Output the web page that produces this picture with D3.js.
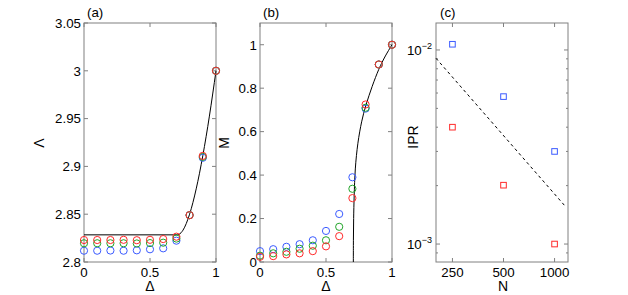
<!DOCTYPE html>
<html>
<head>
<meta charset="utf-8">
<script src="https://cdn.jsdelivr.net/npm/d3@7"></script>
<style>
  body { margin: 0; background: #fff; }
  svg { display: block; }
  text { font-family: "Liberation Sans", Arial, sans-serif; fill: #000; }
</style>
</head>
<body>
<div id="chart"></div>
<script>

// Delta values of the circles
var deltas = [0, 0.1, 0.2, 0.3, 0.4, 0.5, 0.6, 0.7, 0.8, 0.9, 1.0];

// Panel (a): Lambda
var lamBlue  = [2.8118, 2.8118, 2.8120, 2.8118, 2.8122, 2.8133, 2.8143, 2.8223, 2.849, 2.909, 3.0];
var lamGreen = [2.8196, 2.8196, 2.8196, 2.8196, 2.8194, 2.8198, 2.8202, 2.8245, 2.849, 2.910, 3.0];
var lamRed   = [2.8230, 2.8230, 2.8230, 2.8232, 2.8228, 2.8232, 2.8240, 2.8265, 2.849, 2.911, 3.0];
var lamLineD = [0, 0.7071, 0.72, 0.75, 0.8, 0.85, 0.9, 0.95, 1.0];
var lamLineV = [2.8284, 2.8284, 2.8289, 2.8333, 2.850, 2.8765, 2.9111, 2.9526, 3.0];

// Panel (b): M
var mBlue  = [0.050, 0.059, 0.070, 0.082, 0.100, 0.143, 0.221, 0.390, 0.706, 0.909, 1.0];
var mGreen = [0.029, 0.040, 0.047, 0.061, 0.075, 0.100, 0.162, 0.337, 0.710, 0.909, 1.0];
var mRed   = [0.024, 0.027, 0.035, 0.040, 0.050, 0.072, 0.119, 0.294, 0.725, 0.909, 1.0];
var mLineD = [0.7071, 0.7075, 0.709, 0.713, 0.72, 0.74, 0.77, 0.8, 0.85, 0.9, 0.95, 1.0];
var mLineV = [0, 0.10, 0.20, 0.30, 0.43, 0.55, 0.65, 0.72, 0.81, 0.89, 0.95, 1.0];

// Panel (c): IPR vs N
var sizes   = [250, 500, 1000];
var iprBlue = [0.0107, 0.00575, 0.0030];
var iprRed  = [0.0040, 0.00201, 0.0010];
var dashN   = [200, 1160];
var dashIPR = [0.00906, 0.00156];

var blue = '#3b5bff', green = '#22a52a', red = '#ff2a2a', frame = '#808080';
var fs = 13.3;

var svg = d3.select('#chart').append('svg')
	.attr('width', 628).attr('height', 295);

var plotTop = 23, plotBottom = 262;

// Draws one boxed panel with inward ticks on all four sides
function panel(x, y, xTicks, yTicks, xFmt, yFmt, minorY) {

	var g = svg.append('g');
	var x0 = x.range()[0], x1 = x.range()[1];

	g.append('rect')
		.attr('x', x0).attr('y', plotTop)
		.attr('width', x1 - x0).attr('height', plotBottom - plotTop)
		.attr('fill', 'none').attr('stroke', frame).attr('stroke-width', 1);

	var tl = 4;

	xTicks.forEach(function(t) {
		var px = x(t);
		g.append('line').attr('x1', px).attr('x2', px).attr('y1', plotBottom).attr('y2', plotBottom - tl)
			.attr('stroke', frame);
		g.append('line').attr('x1', px).attr('x2', px).attr('y1', plotTop).attr('y2', plotTop + tl)
			.attr('stroke', frame);
		g.append('text').attr('x', px).attr('y', 276.5)
			.attr('text-anchor', 'middle').attr('font-size', fs)
			.text(xFmt(t));
	});

	yTicks.forEach(function(t) {
		var py = y(t);
		g.append('line').attr('x1', x0).attr('x2', x0 + tl).attr('y1', py).attr('y2', py)
			.attr('stroke', frame);
		g.append('line').attr('x1', x1).attr('x2', x1 - tl).attr('y1', py).attr('y2', py)
			.attr('stroke', frame);
		yFmt(g, t, x0 - 3, py);
	});

	(minorY || []).forEach(function(t) {
		var py = y(t);
		g.append('line').attr('x1', x0).attr('x2', x0 + 2).attr('y1', py).attr('y2', py)
			.attr('stroke', frame);
		g.append('line').attr('x1', x1).attr('x2', x1 - 2).attr('y1', py).attr('y2', py)
			.attr('stroke', frame);
	});

	return g;
}

function plainLabel(fmt) {
	return function(g, t, px, py) {
		g.append('text').attr('x', px).attr('y', py + 4.8)
			.attr('text-anchor', 'end').attr('font-size', fs)
			.text(fmt(t));
	};
}

function circles(g, x, y, xs, ys, color) {
	g.selectAll(null)
		.data(xs.map((d, i) => [d, ys[i]]))
		.enter().append('circle')
		.attr('cx', (d) => x(d[0]))
		.attr('cy', (d) => y(d[1]))
		.attr('r', 3.6)
		.attr('fill', 'none').attr('stroke', color).attr('stroke-width', 1);
}

function curve(g, x, y, xs, ys, dash) {
	var line = d3.line().x((d) => x(d[0])).y((d) => y(d[1])).curve(d3.curveMonotoneX);
	g.append('path')
		.attr('d', line(xs.map((d, i) => [d, ys[i]])))
		.attr('fill', 'none').attr('stroke', '#000').attr('stroke-width', 1)
		.attr('stroke-dasharray', dash || null);
}

function fmtNum(t) { return String(+t.toFixed(2)); }

function axisLabel(text, px, py, rotate) {
	svg.append('text')
		.attr('transform', 'translate(' + px + ',' + py + ')' + (rotate ? ' rotate(-90)' : ''))
		.attr('text-anchor', 'middle').attr('font-size', 14)
		.text(text);
}

/* Panel (a) */
var xa = d3.scaleLinear().domain([0, 1]).range([84, 216]);
var ya = d3.scaleLinear().domain([2.8, 3.05]).range([plotBottom, plotTop]);
var ga = panel(xa, ya, [0, 0.5, 1], [2.8, 2.85, 2.9, 2.95, 3, 3.05], fmtNum, plainLabel(fmtNum));
curve(ga, xa, ya, lamLineD.slice(1), lamLineV.slice(1));
ga.append('line')
	.attr('x1', xa(lamLineD[0])).attr('x2', xa(lamLineD[1]))
	.attr('y1', ya(lamLineV[0])).attr('y2', ya(lamLineV[1]))
	.attr('stroke', '#000');
circles(ga, xa, ya, deltas, lamBlue, blue);
circles(ga, xa, ya, deltas, lamGreen, green);
circles(ga, xa, ya, deltas, lamRed, red);
axisLabel('Λ', 44, 143, true);
axisLabel('Δ', 150, 291, false);
svg.append('text').attr('x', 87).attr('y', 17).attr('font-size', fs).text('(a)');

/* Panel (b) */
var xb = d3.scaleLinear().domain([0, 1]).range([260, 392]);
var yb = d3.scaleLinear().domain([0, 1.1]).range([plotBottom, plotTop]);
var gb = panel(xb, yb, [0, 0.5, 1], [0, 0.2, 0.4, 0.6, 0.8, 1], fmtNum, plainLabel(fmtNum));
var mLine = d3.line().x((d) => xb(d[0])).y((d) => yb(d[1])).curve(d3.curveBasis);
gb.append('path')
	.attr('d', mLine(mLineD.map((d, i) => [d, mLineV[i]])))
	.attr('fill', 'none').attr('stroke', '#000').attr('stroke-width', 1);
circles(gb, xb, yb, deltas, mBlue, blue);
circles(gb, xb, yb, deltas, mGreen, green);
circles(gb, xb, yb, deltas, mRed, red);
axisLabel('M', 229, 143, true);
axisLabel('Δ', 326, 291, false);
svg.append('text').attr('x', 263).attr('y', 17).attr('font-size', fs).text('(b)');

/* Panel (c) */
var xc = d3.scaleLog().domain([200, 1200]).range([436, 568]);
var yc = d3.scaleLog().domain([0.000808, 0.01377]).range([plotBottom, plotTop]);
var minor = [];
[0.0001, 0.001, 0.01].forEach(function(dec) {
	for (var k = 2; k <= 9; k++) {
		var v = dec * k;
		if (v > yc.domain()[0] && v < yc.domain()[1]) minor.push(v);
	}
});
var gc = panel(xc, yc, sizes, [0.001, 0.01], String, function(g, t, px, py) {
	var e = Math.round(Math.log10(t));
	var txt = g.append('text').attr('x', px - 1).attr('y', py + 5)
		.attr('text-anchor', 'end').attr('font-size', fs);
	txt.append('tspan').text('10');
	txt.append('tspan').attr('dy', -6).attr('font-size', 9).text('−' + (-e));
}, minor);
curve(gc, xc, yc, dashN, dashIPR, '3,3');
[[iprBlue, blue], [iprRed, red]].forEach(function(s) {
	gc.selectAll(null)
		.data(sizes.map((d, i) => [d, s[0][i]]))
		.enter().append('rect')
		.attr('x', (d) => xc(d[0]) - 2.8)
		.attr('y', (d) => yc(d[1]) - 2.8)
		.attr('width', 5.6).attr('height', 5.6)
		.attr('fill', 'none').attr('stroke', s[1]).attr('stroke-width', 1);
});
axisLabel('IPR', 418, 137, true);
axisLabel('N', 503, 291, false);
svg.append('text').attr('x', 440).attr('y', 17).attr('font-size', fs).text('(c)');

</script>
</body>
</html>
